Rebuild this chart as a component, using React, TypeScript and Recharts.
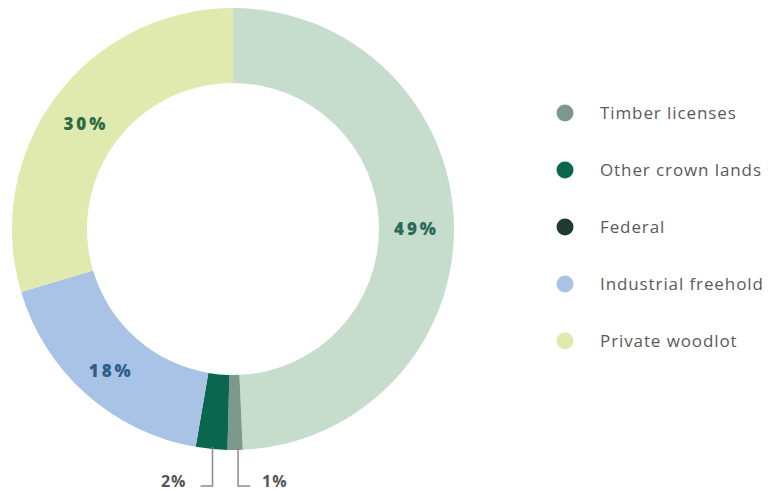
import React from "react";
import { PieChart, Pie, Cell } from "recharts";

const categories = ["Crown land", "Timber licenses", "Other crown lands", "Federal", "Industrial freehold", "Private woodlot"];
const shares = [49.3, 1.1, 2.3, 0, 17.7, 29.6];
const colors = ["#c6dccd", "#7d998b", "#0b6650", "#1f3a31", "#a9c3e6", "#e1eaae"];
const labelColors = ["#2b6a55", "#555555", "#555555", "#555555", "#2c5f8a", "#2d6b45"];
const inLegend = [false, true, true, true, true, true];

const data = categories.map((name, i) => ({ name, value: shares[i], fill: colors[i], legend: inLegend[i] }));

const RAD = Math.PI / 180;

const renderLabel = (props: any) => {
  const { cx, cy, midAngle, innerRadius, outerRadius, index, value } = props;
  const pct = Math.round(value);
  if (value >= 10) {
    const r = (innerRadius + outerRadius) / 2;
    const x = cx + r * Math.cos(-midAngle * RAD);
    const y = cy + r * Math.sin(-midAngle * RAD) + 4;
    return (
      <text x={x} y={y} textAnchor="middle" dominantBaseline="central" fill={labelColors[index]}
        style={{ fontFamily: "Open Sans, sans-serif", fontWeight: 800, fontSize: 17, letterSpacing: 3 }}>
        {pct}%
      </text>
    );
  }
  if (value <= 0) return null;
  const x0 = cx + outerRadius * Math.cos(-midAngle * RAD);
  const y0 = cy + outerRadius * Math.sin(-midAngle * RAD);
  const left = x0 < cx;
  const xl = left ? x0 + 1 : x0 + 3;
  const yEnd = cy + outerRadius + 36;
  const xEnd = left ? xl - 12 : xl + 12;
  return (
    <g>
      <polyline points={`${xl},${y0 - 2} ${xl},${yEnd} ${xEnd},${yEnd}`} fill="none" stroke="#8a8a8a" strokeWidth={1.5} />
      <text x={left ? xEnd - 14 : xEnd + 12} y={yEnd - 5} textAnchor={left ? "end" : "start"} dominantBaseline="central" fill="#555"
        style={{ fontFamily: "Open Sans, sans-serif", fontWeight: 700, fontSize: 16, letterSpacing: 1 }}>
        {pct}%
      </text>
    </g>
  );
};

export default function App() {
  return (
    <div style={{ position: "absolute", left: 0, top: 0, width: 771, height: 491, background: "#fff", overflow: "hidden" }}>
      <PieChart width={771} height={491} margin={{ top: 0, right: 0, bottom: 0, left: 0 }}>
        <Pie
          data={data}
          dataKey="value"
          nameKey="name"
          cx={233}
          cy={229}
          innerRadius={146}
          outerRadius={221}
          startAngle={90}
          endAngle={-270}
          stroke="none"
          label={renderLabel}
          labelLine={false}
          isAnimationActive={false}
        >
          {data.map((d, i) => (
            <Cell key={i} fill={d.fill} />
          ))}
        </Pie>
      </PieChart>
      <div style={{ position: "absolute", left: 556, top: 84, width: 215, fontFamily: "Open Sans, sans-serif" }}>
        {data.filter((d) => d.legend).map((d, i) => (
          <div key={i} style={{ display: "flex", alignItems: "center", height: 57 }}>
            <svg width={18} height={18} style={{ marginRight: 26 }}>
              <circle cx={9} cy={9} r={8.5} fill={d.fill} />
            </svg>
            <span style={{ color: "#5a5a5a", fontSize: 17, letterSpacing: 0.9, whiteSpace: "nowrap" }}>{d.name}</span>
          </div>
        ))}
      </div>
    </div>
  );
}
